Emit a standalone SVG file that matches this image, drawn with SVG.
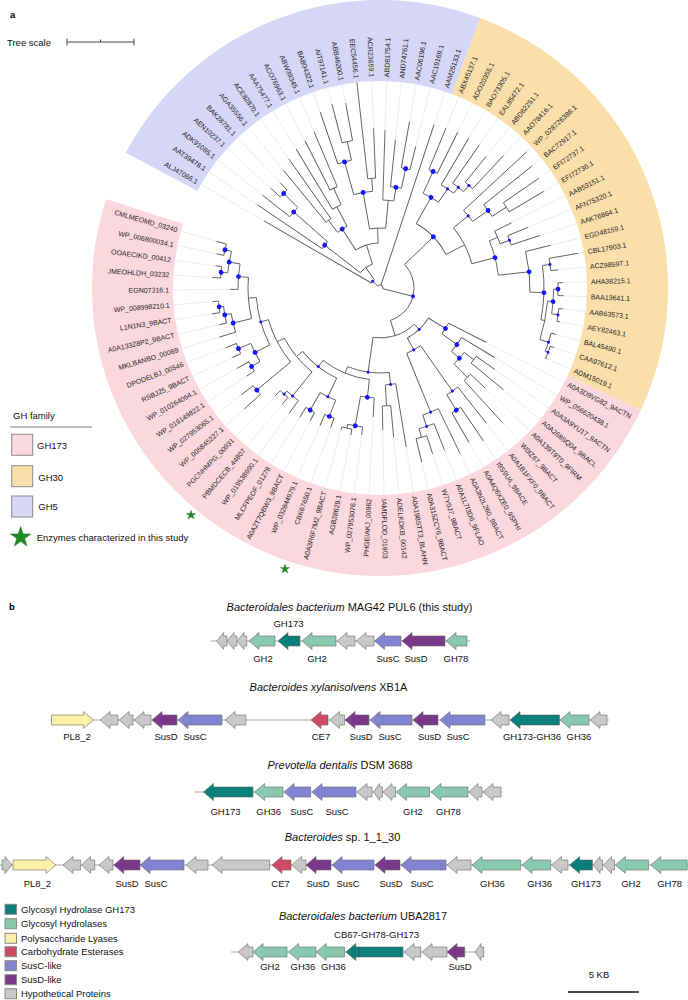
<svg xmlns="http://www.w3.org/2000/svg" width="688" height="1000" viewBox="0 0 688 1000">
<defs>
<style>
.br path,.br circle{fill:none;stroke:#5b5b5b;stroke-width:0.9}
.ld path{stroke:#e2e2e2;stroke-width:0.6}
.dots circle{fill:#1414ff}
.tl text{font-family:"Liberation Sans",Arial,sans-serif;font-size:7px;fill:#222;dominant-baseline:central}
.tl .f{text-anchor:end}
.lab{font-family:"Liberation Sans",Arial,sans-serif;font-size:9.5px;fill:#111}
.gl{font-family:"Liberation Sans",Arial,sans-serif;font-size:9.5px;fill:#111;text-anchor:middle}
.ti{font-family:"Liberation Sans",Arial,sans-serif;font-size:11px;fill:#111;text-anchor:middle}
.gene path{stroke:#6a6a6a;stroke-width:0.6}
.hy{fill:#c9c9c9}.gh{fill:#88c9af}.t{fill:#087f79}.pl{fill:#fcefa8}.ce{fill:#cf4b64}.sc{fill:#8283d1}.sd{fill:#7a388a}
.bb{stroke:#555;stroke-width:0.8;fill:none}
.band{fill:none;stroke-width:81}
.lg{stroke:#8a8a8a;stroke-width:1}
</style>
<path id="star" d="M0,-10L2.245,-3.09L9.51,-3.09L3.63,1.18L5.88,8.09L0,3.82L-5.88,8.09L-3.63,1.18L-9.51,-3.09L-2.245,-3.09Z" fill="#1f8b24" stroke="#146b18" stroke-width="0.6"/>
</defs>
<rect width="688" height="1000" fill="#fff"/>
<text x="10" y="18" font-family="Liberation Sans,Arial,sans-serif" font-size="9.5" font-weight="bold">a</text>
<g id="tree-scale">
<text class="lab" x="7" y="45.5">Tree scale</text>
<path d="M67 42H134M67 38.5V45.5M134 38.5V45.5M100.5 39.5V42" stroke="#444" stroke-width="1" fill="none"/>
</g>
<g id="bands" transform="translate(380 288)">
<circle class="band" r="247.5" pathLength="360" stroke-dasharray="82.35 360" transform="rotate(208)" stroke="#d6d6f6"/>
<circle class="band" r="247.5" pathLength="360" stroke-dasharray="94.71 360" transform="rotate(290.35)" stroke="#fbdfaa"/>
<circle class="band" r="247.5" pathLength="360" stroke-dasharray="172.94 360" transform="rotate(385.06)" stroke="#fad8de"/>
</g>
<g id="leaders" class="ld" transform="translate(380 288)">
<path transform="rotate(210.06)" d="M134 0H207"/><path transform="rotate(214.18)" d="M148 0H207"/><path transform="rotate(218.3)" d="M150 0H207"/><path transform="rotate(222.41)" d="M148 0H207"/><path transform="rotate(226.53)" d="M145 0H207"/><path transform="rotate(230.65)" d="M152 0H207"/><path transform="rotate(234.77)" d="M158 0H207"/><path transform="rotate(238.88)" d="M162 0H207"/><path transform="rotate(243)" d="M165 0H207"/><path transform="rotate(247.12)" d="M170 0H207"/><path transform="rotate(251.24)" d="M186 0H207"/><path transform="rotate(255.35)" d="M190 0H207"/><path transform="rotate(259.47)" d="M188 0H207"/><path transform="rotate(267.71)" d="M160 0H207"/><path transform="rotate(271.82)" d="M158 0H207"/><path transform="rotate(275.94)" d="M149 0H207"/><path transform="rotate(280.06)" d="M169 0H207"/><path transform="rotate(284.18)" d="M146 0H207"/><path transform="rotate(288.3)" d="M172 0H207"/>
<path transform="rotate(292.41)" d="M173 0H207"/><path transform="rotate(296.53)" d="M174 0H207"/><path transform="rotate(300.65)" d="M174 0H207"/><path transform="rotate(304.77)" d="M174 0H207"/><path transform="rotate(308.88)" d="M169 0H207"/><path transform="rotate(313)" d="M181 0H207"/><path transform="rotate(317.12)" d="M200 0H207"/><path transform="rotate(321.24)" d="M195 0H207"/><path transform="rotate(325.35)" d="M193 0H207"/><path transform="rotate(329.47)" d="M190 0H207"/><path transform="rotate(333.59)" d="M147 0H207"/><path transform="rotate(337.71)" d="M160 0H207"/><path transform="rotate(341.82)" d="M168 0H207"/><path transform="rotate(345.94)" d="M176 0H207"/><path transform="rotate(350.06)" d="M201 0H207"/><path transform="rotate(354.18)" d="M179 0H207"/><path transform="rotate(358.3)" d="M183 0H207"/><path transform="rotate(362.41)" d="M184 0H207"/><path transform="rotate(366.53)" d="M184 0H207"/><path transform="rotate(370.65)" d="M183 0H207"/><path transform="rotate(374.77)" d="M182 0H207"/><path transform="rotate(378.88)" d="M184 0H207"/><path transform="rotate(383)" d="M181 0H207"/>
<path transform="rotate(387.12)" d="M119 0H207"/><path transform="rotate(391.24)" d="M134 0H207"/><path transform="rotate(395.35)" d="M141 0H207"/><path transform="rotate(399.47)" d="M160 0H207"/><path transform="rotate(403.59)" d="M145 0H207"/><path transform="rotate(407.71)" d="M181 0H207"/><path transform="rotate(411.82)" d="M172 0H207"/><path transform="rotate(415.94)" d="M185 0H207"/><path transform="rotate(420.06)" d="M178 0H207"/><path transform="rotate(424.18)" d="M184 0H207"/><path transform="rotate(428.3)" d="M175 0H207"/><path transform="rotate(432.41)" d="M174 0H207"/><path transform="rotate(436.53)" d="M179 0H207"/><path transform="rotate(440.65)" d="M161 0H207"/><path transform="rotate(444.77)" d="M150 0H207"/><path transform="rotate(448.88)" d="M142 0H207"/><path transform="rotate(453)" d="M129 0H207"/><path transform="rotate(457.12)" d="M148 0H207"/><path transform="rotate(461.24)" d="M150 0H207"/><path transform="rotate(465.35)" d="M147 0H207"/><path transform="rotate(469.47)" d="M148 0H207"/><path transform="rotate(473.59)" d="M150 0H207"/><path transform="rotate(477.71)" d="M150 0H207"/><path transform="rotate(481.82)" d="M152 0H207"/><path transform="rotate(485.94)" d="M155 0H207"/><path transform="rotate(490.06)" d="M152 0H207"/><path transform="rotate(494.18)" d="M150 0H207"/><path transform="rotate(498.3)" d="M182 0H207"/><path transform="rotate(502.41)" d="M175 0H207"/><path transform="rotate(506.53)" d="M160 0H207"/><path transform="rotate(510.65)" d="M164 0H207"/><path transform="rotate(514.77)" d="M163 0H207"/><path transform="rotate(518.88)" d="M166 0H207"/><path transform="rotate(523)" d="M168 0H207"/><path transform="rotate(527.12)" d="M165 0H207"/><path transform="rotate(531.24)" d="M170 0H207"/><path transform="rotate(535.35)" d="M168 0H207"/><path transform="rotate(539.47)" d="M150 0H207"/><path transform="rotate(543.59)" d="M168 0H207"/><path transform="rotate(547.71)" d="M166 0H207"/><path transform="rotate(551.82)" d="M167 0H207"/><path transform="rotate(555.94)" d="M170 0H207"/>
</g>
<g id="tree" class="br" transform="translate(380 288)">
<path transform="rotate(222.6)" d="M3 0H10"/><path transform="rotate(210.06)" d="M10 0H134"/><path transform="rotate(235.2)" d="M10 0H25"/><path transform="rotate(217.8)" d="M25 0H70"/><path transform="rotate(214.18)" d="M70 0H148"/><path transform="rotate(221.4)" d="M70 0H115"/><path transform="rotate(218.3)" d="M115 0H150"/><path transform="rotate(224.47)" d="M115 0H135"/><path transform="rotate(222.41)" d="M135 0H148"/><path transform="rotate(226.53)" d="M135 0H145"/><path transform="rotate(252.5)" d="M25 0H45"/><path transform="rotate(237.34)" d="M45 0H70"/><path transform="rotate(232.71)" d="M70 0H85"/><path transform="rotate(230.65)" d="M85 0H152"/><path transform="rotate(234.77)" d="M85 0H158"/><path transform="rotate(241.97)" d="M70 0H92"/><path transform="rotate(238.88)" d="M92 0H162"/><path transform="rotate(245.06)" d="M92 0H110"/><path transform="rotate(243)" d="M110 0H165"/><path transform="rotate(247.12)" d="M110 0H170"/><path transform="rotate(267.7)" d="M45 0H60"/><path transform="rotate(260)" d="M60 0H97"/><path transform="rotate(254.3)" d="M97 0H131"/><path transform="rotate(251.24)" d="M131 0H186"/><path transform="rotate(257.41)" d="M131 0H150"/><path transform="rotate(255.35)" d="M150 0H190"/><path transform="rotate(259.47)" d="M150 0H188"/><path transform="rotate(265.65)" d="M97 0H110"/><path transform="rotate(263.59)" d="M110 0H207"/><path transform="rotate(267.71)" d="M110 0H160"/><path transform="rotate(275.4)" d="M60 0H88"/><path transform="rotate(271.82)" d="M88 0H158"/><path transform="rotate(279.03)" d="M88 0H102"/><path transform="rotate(275.94)" d="M102 0H149"/><path transform="rotate(282.12)" d="M102 0H122"/><path transform="rotate(280.06)" d="M122 0H169"/><path transform="rotate(284.18)" d="M122 0H146"/><path transform="rotate(288.3)" d="M3 0H172"/>
<circle r="3" pathLength="360" stroke-dasharray="151.6 360" transform="rotate(222.6)"/><circle r="10" pathLength="360" stroke-dasharray="25.14 360" transform="rotate(210.06)"/><circle r="25" pathLength="360" stroke-dasharray="34.7 360" transform="rotate(217.8)"/><circle r="70" pathLength="360" stroke-dasharray="7.22 360" transform="rotate(214.18)"/><circle r="115" pathLength="360" stroke-dasharray="6.17 360" transform="rotate(218.3)"/><circle r="135" pathLength="360" stroke-dasharray="4.12 360" transform="rotate(222.41)"/><circle r="45" pathLength="360" stroke-dasharray="30.36 360" transform="rotate(237.34)"/><circle r="70" pathLength="360" stroke-dasharray="9.26 360" transform="rotate(232.71)"/><circle r="85" pathLength="360" stroke-dasharray="4.12 360" transform="rotate(230.65)"/><circle r="92" pathLength="360" stroke-dasharray="6.18 360" transform="rotate(238.88)"/><circle r="110" pathLength="360" stroke-dasharray="4.12 360" transform="rotate(243)"/><circle r="60" pathLength="360" stroke-dasharray="15.4 360" transform="rotate(260)"/><circle r="97" pathLength="360" stroke-dasharray="11.35 360" transform="rotate(254.3)"/><circle r="131" pathLength="360" stroke-dasharray="6.17 360" transform="rotate(251.24)"/><circle r="150" pathLength="360" stroke-dasharray="4.12 360" transform="rotate(255.35)"/><circle r="110" pathLength="360" stroke-dasharray="4.12 360" transform="rotate(263.59)"/><circle r="88" pathLength="360" stroke-dasharray="7.21 360" transform="rotate(271.82)"/><circle r="102" pathLength="360" stroke-dasharray="6.18 360" transform="rotate(275.94)"/><circle r="122" pathLength="360" stroke-dasharray="4.12 360" transform="rotate(280.06)"/>
<path transform="rotate(374.2)" d="M3 0H34"/><path transform="rotate(316.16)" d="M34 0H74"/><path transform="rotate(299.37)" d="M74 0H104"/><path transform="rotate(294.47)" d="M104 0H128"/><path transform="rotate(292.41)" d="M128 0H173"/><path transform="rotate(296.53)" d="M128 0H174"/><path transform="rotate(304.26)" d="M104 0H120"/><path transform="rotate(300.65)" d="M120 0H174"/><path transform="rotate(307.86)" d="M120 0H127.6"/><path transform="rotate(304.77)" d="M127.6 0H174"/><path transform="rotate(310.94)" d="M127.6 0H135.7"/><path transform="rotate(308.88)" d="M135.7 0H169"/><path transform="rotate(313)" d="M135.7 0H181"/><path transform="rotate(332.95)" d="M74 0H95"/><path transform="rotate(320.7)" d="M95 0H114"/><path transform="rotate(317.12)" d="M114 0H200"/><path transform="rotate(324.33)" d="M114 0H133"/><path transform="rotate(321.24)" d="M133 0H195"/><path transform="rotate(327.41)" d="M133 0H150"/><path transform="rotate(325.35)" d="M150 0H193"/><path transform="rotate(329.47)" d="M150 0H190"/><path transform="rotate(345.2)" d="M95 0H119"/><path transform="rotate(336.68)" d="M119 0H128"/><path transform="rotate(333.59)" d="M128 0H147"/><path transform="rotate(339.77)" d="M128 0H138"/><path transform="rotate(337.71)" d="M138 0H160"/><path transform="rotate(341.82)" d="M138 0H168"/><path transform="rotate(353.8)" d="M119 0H150"/><path transform="rotate(345.94)" d="M150 0H176"/><path transform="rotate(361.6)" d="M150 0H164"/><path transform="rotate(352.12)" d="M164 0H171.6"/><path transform="rotate(350.06)" d="M171.6 0H201"/><path transform="rotate(354.18)" d="M171.6 0H179"/><path transform="rotate(371.17)" d="M164 0H168"/><path transform="rotate(364.48)" d="M168 0H173.6"/><path transform="rotate(360.36)" d="M173.6 0H178"/><path transform="rotate(358.3)" d="M178 0H183"/><path transform="rotate(362.41)" d="M178 0H184"/><path transform="rotate(368.59)" d="M173.6 0H180"/><path transform="rotate(366.53)" d="M180 0H184"/><path transform="rotate(370.65)" d="M180 0H183"/><path transform="rotate(377.86)" d="M168 0H177"/><path transform="rotate(374.77)" d="M177 0H182"/><path transform="rotate(380.94)" d="M177 0H180"/><path transform="rotate(378.88)" d="M180 0H184"/><path transform="rotate(383)" d="M180 0H181.5"/>
<circle r="34" pathLength="360" stroke-dasharray="116.14 360" transform="rotate(316.16)"/><circle r="74" pathLength="360" stroke-dasharray="33.58 360" transform="rotate(299.37)"/><circle r="104" pathLength="360" stroke-dasharray="9.79 360" transform="rotate(294.47)"/><circle r="128" pathLength="360" stroke-dasharray="4.12 360" transform="rotate(292.41)"/><circle r="120" pathLength="360" stroke-dasharray="7.21 360" transform="rotate(300.65)"/><circle r="127.6" pathLength="360" stroke-dasharray="6.17 360" transform="rotate(304.77)"/><circle r="135.7" pathLength="360" stroke-dasharray="4.12 360" transform="rotate(308.88)"/><circle r="95" pathLength="360" stroke-dasharray="24.5 360" transform="rotate(320.7)"/><circle r="114" pathLength="360" stroke-dasharray="7.21 360" transform="rotate(317.12)"/><circle r="133" pathLength="360" stroke-dasharray="6.17 360" transform="rotate(321.24)"/><circle r="150" pathLength="360" stroke-dasharray="4.12 360" transform="rotate(325.35)"/><circle r="119" pathLength="360" stroke-dasharray="17.12 360" transform="rotate(336.68)"/><circle r="128" pathLength="360" stroke-dasharray="6.18 360" transform="rotate(333.59)"/><circle r="138" pathLength="360" stroke-dasharray="4.11 360" transform="rotate(337.71)"/><circle r="150" pathLength="360" stroke-dasharray="15.66 360" transform="rotate(345.94)"/><circle r="164" pathLength="360" stroke-dasharray="19.05 360" transform="rotate(352.12)"/><circle r="171.6" pathLength="360" stroke-dasharray="4.12 360" transform="rotate(350.06)"/><circle r="168" pathLength="360" stroke-dasharray="13.38 360" transform="rotate(364.48)"/><circle r="173.6" pathLength="360" stroke-dasharray="8.23 360" transform="rotate(360.36)"/><circle r="178" pathLength="360" stroke-dasharray="4.11 360" transform="rotate(358.3)"/><circle r="180" pathLength="360" stroke-dasharray="4.12 360" transform="rotate(366.53)"/><circle r="177" pathLength="360" stroke-dasharray="6.17 360" transform="rotate(374.77)"/><circle r="180" pathLength="360" stroke-dasharray="4.12 360" transform="rotate(378.88)"/>
<path transform="rotate(432.25)" d="M34 0H50"/><path transform="rotate(406.56)" d="M50 0H57"/><path transform="rotate(391.76)" d="M57 0H77"/><path transform="rotate(387.12)" d="M77 0H119"/><path transform="rotate(396.39)" d="M77 0H95.5"/><path transform="rotate(391.24)" d="M95.5 0H134"/><path transform="rotate(401.53)" d="M95.5 0H106"/><path transform="rotate(397.41)" d="M106 0H118"/><path transform="rotate(395.35)" d="M118 0H141"/><path transform="rotate(399.47)" d="M118 0H160"/><path transform="rotate(405.65)" d="M106 0H125"/><path transform="rotate(403.59)" d="M125 0H145"/><path transform="rotate(407.71)" d="M125 0H181"/><path transform="rotate(421.35)" d="M57 0H70.5"/><path transform="rotate(414.91)" d="M70.5 0H126"/><path transform="rotate(411.82)" d="M126 0H172"/><path transform="rotate(418)" d="M126 0H144"/><path transform="rotate(415.94)" d="M144 0H185"/><path transform="rotate(420.06)" d="M144 0H178"/><path transform="rotate(427.79)" d="M70.5 0H134"/><path transform="rotate(424.18)" d="M134 0H184"/><path transform="rotate(431.39)" d="M134 0H146"/><path transform="rotate(428.3)" d="M146 0H175"/><path transform="rotate(434.47)" d="M146 0H155"/><path transform="rotate(432.41)" d="M155 0H174"/><path transform="rotate(436.53)" d="M155 0H179"/>
<path transform="rotate(458.05)" d="M50 0H85"/><path transform="rotate(443.74)" d="M85 0H97"/><path transform="rotate(440.65)" d="M97 0H161"/><path transform="rotate(446.83)" d="M97 0H118"/><path transform="rotate(444.77)" d="M118 0H150"/><path transform="rotate(448.88)" d="M118 0H142"/><path transform="rotate(472.35)" d="M85 0H92"/><path transform="rotate(456.6)" d="M92 0H110"/><path transform="rotate(453)" d="M110 0H129"/><path transform="rotate(460.2)" d="M110 0H140"/><path transform="rotate(457.12)" d="M140 0H148"/><path transform="rotate(463.3)" d="M140 0H144"/><path transform="rotate(461.24)" d="M144 0H150"/><path transform="rotate(465.35)" d="M144 0H147"/><path transform="rotate(488.1)" d="M92 0H100"/><path transform="rotate(475.65)" d="M100 0H120.6"/><path transform="rotate(471.53)" d="M120.6 0H138"/><path transform="rotate(469.47)" d="M138 0H148"/><path transform="rotate(473.59)" d="M138 0H150"/><path transform="rotate(479.77)" d="M120.6 0H140.6"/><path transform="rotate(477.71)" d="M140.6 0H150"/><path transform="rotate(481.82)" d="M140.6 0H152"/><path transform="rotate(500.65)" d="M100 0H108"/><path transform="rotate(489.03)" d="M108 0H139"/><path transform="rotate(485.94)" d="M139 0H155"/><path transform="rotate(492.12)" d="M139 0H143"/><path transform="rotate(490.06)" d="M143 0H152"/><path transform="rotate(494.18)" d="M143 0H150"/><path transform="rotate(512.3)" d="M108 0H116"/><path transform="rotate(500.36)" d="M116 0H160"/><path transform="rotate(498.3)" d="M160 0H182"/><path transform="rotate(502.41)" d="M160 0H175"/><path transform="rotate(524.15)" d="M116 0H124"/><path transform="rotate(512.71)" d="M124 0H140.6"/><path transform="rotate(508.59)" d="M140.6 0H150.5"/><path transform="rotate(506.53)" d="M150.5 0H160"/><path transform="rotate(510.65)" d="M150.5 0H164"/><path transform="rotate(516.83)" d="M140.6 0H154"/><path transform="rotate(514.77)" d="M154 0H163"/><path transform="rotate(518.88)" d="M154 0H166"/><path transform="rotate(535.6)" d="M124 0H132"/><path transform="rotate(526.6)" d="M132 0H151"/><path transform="rotate(523)" d="M151 0H168"/><path transform="rotate(530.2)" d="M151 0H157.5"/><path transform="rotate(527.12)" d="M157.5 0H165"/><path transform="rotate(533.3)" d="M157.5 0H162"/><path transform="rotate(531.24)" d="M162 0H170"/><path transform="rotate(535.35)" d="M162 0H168"/><path transform="rotate(544.62)" d="M132 0H142"/><path transform="rotate(539.47)" d="M142 0H150"/><path transform="rotate(549.77)" d="M142 0H153"/><path transform="rotate(545.65)" d="M153 0H159.7"/><path transform="rotate(543.59)" d="M159.7 0H168"/><path transform="rotate(547.71)" d="M159.7 0H166"/><path transform="rotate(553.88)" d="M153 0H159.6"/><path transform="rotate(551.82)" d="M159.6 0H167"/><path transform="rotate(555.94)" d="M159.6 0H170"/>
<circle r="50" pathLength="360" stroke-dasharray="51.49 360" transform="rotate(406.56)"/><circle r="57" pathLength="360" stroke-dasharray="29.59 360" transform="rotate(391.76)"/><circle r="77" pathLength="360" stroke-dasharray="9.27 360" transform="rotate(387.12)"/><circle r="95.5" pathLength="360" stroke-dasharray="10.29 360" transform="rotate(391.24)"/><circle r="106" pathLength="360" stroke-dasharray="8.24 360" transform="rotate(397.41)"/><circle r="118" pathLength="360" stroke-dasharray="4.12 360" transform="rotate(395.35)"/><circle r="125" pathLength="360" stroke-dasharray="4.12 360" transform="rotate(403.59)"/><circle r="70.5" pathLength="360" stroke-dasharray="12.88 360" transform="rotate(414.91)"/><circle r="126" pathLength="360" stroke-dasharray="6.18 360" transform="rotate(411.82)"/><circle r="144" pathLength="360" stroke-dasharray="4.12 360" transform="rotate(415.94)"/><circle r="134" pathLength="360" stroke-dasharray="7.21 360" transform="rotate(424.18)"/><circle r="146" pathLength="360" stroke-dasharray="6.17 360" transform="rotate(428.3)"/><circle r="155" pathLength="360" stroke-dasharray="4.12 360" transform="rotate(432.41)"/>
<circle r="85" pathLength="360" stroke-dasharray="28.61 360" transform="rotate(443.74)"/><circle r="97" pathLength="360" stroke-dasharray="6.18 360" transform="rotate(440.65)"/><circle r="118" pathLength="360" stroke-dasharray="4.11 360" transform="rotate(444.77)"/><circle r="92" pathLength="360" stroke-dasharray="31.5 360" transform="rotate(456.6)"/><circle r="110" pathLength="360" stroke-dasharray="7.2 360" transform="rotate(453)"/><circle r="140" pathLength="360" stroke-dasharray="6.18 360" transform="rotate(457.12)"/><circle r="144" pathLength="360" stroke-dasharray="4.11 360" transform="rotate(461.24)"/><circle r="100" pathLength="360" stroke-dasharray="25 360" transform="rotate(475.65)"/><circle r="120.6" pathLength="360" stroke-dasharray="8.24 360" transform="rotate(471.53)"/><circle r="138" pathLength="360" stroke-dasharray="4.12 360" transform="rotate(469.47)"/><circle r="140.6" pathLength="360" stroke-dasharray="4.11 360" transform="rotate(477.71)"/><circle r="108" pathLength="360" stroke-dasharray="23.27 360" transform="rotate(489.03)"/><circle r="139" pathLength="360" stroke-dasharray="6.18 360" transform="rotate(485.94)"/><circle r="143" pathLength="360" stroke-dasharray="4.12 360" transform="rotate(490.06)"/><circle r="116" pathLength="360" stroke-dasharray="23.79 360" transform="rotate(500.36)"/><circle r="160" pathLength="360" stroke-dasharray="4.11 360" transform="rotate(498.3)"/><circle r="124" pathLength="360" stroke-dasharray="22.89 360" transform="rotate(512.71)"/><circle r="140.6" pathLength="360" stroke-dasharray="8.24 360" transform="rotate(508.59)"/><circle r="150.5" pathLength="360" stroke-dasharray="4.12 360" transform="rotate(506.53)"/><circle r="154" pathLength="360" stroke-dasharray="4.11 360" transform="rotate(514.77)"/><circle r="132" pathLength="360" stroke-dasharray="18.02 360" transform="rotate(526.6)"/><circle r="151" pathLength="360" stroke-dasharray="7.2 360" transform="rotate(523)"/><circle r="157.5" pathLength="360" stroke-dasharray="6.18 360" transform="rotate(527.12)"/><circle r="162" pathLength="360" stroke-dasharray="4.11 360" transform="rotate(531.24)"/><circle r="142" pathLength="360" stroke-dasharray="10.3 360" transform="rotate(539.47)"/><circle r="153" pathLength="360" stroke-dasharray="8.23 360" transform="rotate(545.65)"/><circle r="159.7" pathLength="360" stroke-dasharray="4.12 360" transform="rotate(543.59)"/><circle r="159.6" pathLength="360" stroke-dasharray="4.12 360" transform="rotate(551.82)"/>
</g>
<g id="support-dots" class="dots" transform="translate(380 288)">
<circle transform="rotate(217.8)" cx="70" r="2.4"/><circle transform="rotate(221.4)" cx="115" r="2.4"/><circle transform="rotate(224.47)" cx="135" r="2.4"/><circle transform="rotate(237.34)" cx="70" r="2.4"/><circle transform="rotate(260)" cx="97" r="2.4"/><circle transform="rotate(254.3)" cx="131" r="2.4"/><circle transform="rotate(279.03)" cx="102" r="2.4"/><circle transform="rotate(282.12)" cx="122" r="2.4"/><circle transform="rotate(374.2)" cx="34" r="2"/><circle transform="rotate(316.16)" cx="74" r="2.4"/><circle transform="rotate(299.37)" cx="104" r="2.4"/><circle transform="rotate(294.47)" cx="128" r="2.4"/><circle transform="rotate(324.33)" cx="133" r="2.4"/><circle transform="rotate(345.2)" cx="119" r="2.4"/><circle transform="rotate(353.8)" cx="150" r="2.4"/><circle transform="rotate(361.6)" cx="164" r="2.4"/><circle transform="rotate(364.48)" cx="173.6" r="2.4"/><circle transform="rotate(360.36)" cx="178" r="2.4"/><circle transform="rotate(391.76)" cx="77" r="2.4"/><circle transform="rotate(396.39)" cx="95.5" r="2.4"/><circle transform="rotate(401.53)" cx="106" r="2.4"/><circle transform="rotate(418)" cx="144" r="2.4"/><circle transform="rotate(456.6)" cx="110" r="2.4"/><circle transform="rotate(460.2)" cx="140" r="2.4"/><circle transform="rotate(471.53)" cx="138" r="2.4"/><circle transform="rotate(479.77)" cx="140.6" r="2.4"/><circle transform="rotate(500.36)" cx="160" r="2.4"/><circle transform="rotate(512.71)" cx="140.6" r="2.4"/><circle transform="rotate(508.59)" cx="150.5" r="2.4"/><circle transform="rotate(516.83)" cx="154" r="2.4"/><circle transform="rotate(526.6)" cx="151" r="2.4"/><circle transform="rotate(530.2)" cx="157.5" r="2.4"/><circle transform="rotate(533.3)" cx="162" r="2.4"/><circle transform="rotate(544.62)" cx="142" r="2.4"/><circle transform="rotate(549.77)" cx="153" r="2.4"/><circle transform="rotate(545.65)" cx="159.7" r="2.4"/><circle transform="rotate(553.88)" cx="159.6" r="2.4"/>
<circle transform="rotate(222.6)" cx="10" r="1.5"/><circle transform="rotate(304.26)" cx="120" r="1.5"/><circle transform="rotate(307.86)" cx="127.6" r="1.5"/><circle transform="rotate(310.94)" cx="135.7" r="1.5"/><circle transform="rotate(320.7)" cx="114" r="1.5"/><circle transform="rotate(339.77)" cx="138" r="1.5"/><circle transform="rotate(352.12)" cx="171.6" r="1.5"/><circle transform="rotate(368.59)" cx="180" r="1.5"/><circle transform="rotate(377.86)" cx="177" r="1.5"/><circle transform="rotate(380.94)" cx="180" r="1.5"/><circle transform="rotate(406.56)" cx="57" r="1.5"/><circle transform="rotate(421.35)" cx="70.5" r="1.5"/><circle transform="rotate(414.91)" cx="126" r="1.5"/><circle transform="rotate(427.79)" cx="134" r="1.5"/><circle transform="rotate(431.39)" cx="146" r="1.5"/><circle transform="rotate(458.05)" cx="85" r="1.5"/><circle transform="rotate(443.74)" cx="97" r="1.5"/><circle transform="rotate(488.1)" cx="100" r="1.5"/><circle transform="rotate(475.65)" cx="120.6" r="1.5"/><circle transform="rotate(489.03)" cx="139" r="1.5"/><circle transform="rotate(492.12)" cx="143" r="1.5"/><circle transform="rotate(524.15)" cx="124" r="1.5"/>
</g>
<g id="leaf-labels" class="tl" transform="translate(380 288)">
<text class="f" transform="rotate(210.06)translate(211)rotate(180)">ALJ47066.1</text>
<text class="f" transform="rotate(214.18)translate(211)rotate(180)">AAT39478.1</text>
<text class="f" transform="rotate(218.3)translate(211)rotate(180)">ADK91085.1</text>
<text class="f" transform="rotate(222.41)translate(211)rotate(180)">AEN10237.1</text>
<text class="f" transform="rotate(226.53)translate(211)rotate(180)">BAK28781.1</text>
<text class="f" transform="rotate(230.65)translate(211)rotate(180)">AGA35556.1</text>
<text class="f" transform="rotate(234.77)translate(211)rotate(180)">ACE82870.1</text>
<text class="f" transform="rotate(238.88)translate(211)rotate(180)">AAA75477.1</text>
<text class="f" transform="rotate(243)translate(211)rotate(180)">ACO76963.1</text>
<text class="f" transform="rotate(247.12)translate(211)rotate(180)">ABW39345.1</text>
<text class="f" transform="rotate(251.24)translate(211)rotate(180)">BAB04322.1</text>
<text class="f" transform="rotate(255.35)translate(211)rotate(180)">AIT97141.1</text>
<text class="f" transform="rotate(259.47)translate(211)rotate(180)">ABB46200.1</text>
<text class="f" transform="rotate(263.59)translate(211)rotate(180)">EEC54456.1</text>
<text class="f" transform="rotate(267.71)translate(211)rotate(180)">ACR23659.1</text>
<text transform="rotate(271.82)translate(211)">ABD81754.1</text>
<text transform="rotate(275.94)translate(211)">AND74761.1</text>
<text transform="rotate(280.06)translate(211)">AAC06196.1</text>
<text transform="rotate(284.18)translate(211)">AAC19169.1</text>
<text transform="rotate(288.3)translate(211)">AAM25133.1</text>
<text transform="rotate(292.41)translate(211)">ABX45137.1</text>
<text transform="rotate(296.53)translate(211)">ADO20355.1</text>
<text transform="rotate(300.65)translate(211)">BAO73305.1</text>
<text transform="rotate(304.77)translate(211)">EAL85472.1</text>
<text transform="rotate(308.88)translate(211)">ABD82251.1</text>
<text transform="rotate(313)translate(211)">AAO78416.1</text>
<text transform="rotate(317.12)translate(211)">WP_028726386.1</text>
<text transform="rotate(321.24)translate(211)">BAC72917.1</text>
<text transform="rotate(325.35)translate(211)">EFI72737.1</text>
<text transform="rotate(329.47)translate(211)">EFI72736.1</text>
<text transform="rotate(333.59)translate(211)">AAB53151.1</text>
<text transform="rotate(337.71)translate(211)">AFN75320.1</text>
<text transform="rotate(341.82)translate(211)">AAK76864.1</text>
<text transform="rotate(345.94)translate(211)">EGD48159.1</text>
<text transform="rotate(350.06)translate(211)">CBL17903.1</text>
<text transform="rotate(354.18)translate(211)">ACZ98597.1</text>
<text transform="rotate(358.3)translate(211)">AHA38215.1</text>
<text transform="rotate(362.41)translate(211)">BAA13641.1</text>
<text transform="rotate(366.53)translate(211)">AAB63573.1</text>
<text transform="rotate(370.65)translate(211)">AEY82463.1</text>
<text transform="rotate(374.77)translate(211)">BAL45490.1</text>
<text transform="rotate(378.88)translate(211)">CAA97612.1</text>
<text transform="rotate(383)translate(211)">ADM15019.1</text>
<text transform="rotate(387.12)translate(211)">A0A3D9VG82_9ACTN</text>
<text transform="rotate(391.24)translate(211)">WP_056620438.1</text>
<text transform="rotate(395.35)translate(211)">A0A3A9YU17_9ACTN</text>
<text transform="rotate(399.47)translate(211)">A0A268SQ04_9BACL</text>
<text transform="rotate(403.59)translate(211)">A0A139T9T0_9FIRM</text>
<text transform="rotate(407.71)translate(211)">W0IZ67_9BACT</text>
<text transform="rotate(411.82)translate(211)">A0A1B1FXF0_9BACT</text>
<text transform="rotate(415.94)translate(211)">I9S9U4_9BACE</text>
<text transform="rotate(420.06)translate(211)">A0A4Q6XZE0_9SPHI</text>
<text transform="rotate(424.18)translate(211)">A0A3N2L260_9BACT</text>
<text transform="rotate(428.3)translate(211)">A0A1L7I3D6_9FLAO</text>
<text transform="rotate(432.41)translate(211)">W7Y0J7_9BACT</text>
<text transform="rotate(436.53)translate(211)">A0A315ZCY6_9BACT</text>
<text transform="rotate(440.65)translate(211)">A0A198STT3_BLAHN</text>
<text transform="rotate(444.77)translate(211)">ADELKDKB_00142</text>
<text transform="rotate(448.88)translate(211)">IAMDFLOD_01903</text>
<text class="f" transform="rotate(453)translate(211)rotate(180)">PHGEIAKJ_00962</text>
<text class="f" transform="rotate(457.12)translate(211)rotate(180)">WP_027953076.1</text>
<text class="f" transform="rotate(461.24)translate(211)rotate(180)">AGB28629.1</text>
<text class="f" transform="rotate(465.35)translate(211)rotate(180)">A0A3R6F7M2_9BACT</text>
<text class="f" transform="rotate(469.47)translate(211)rotate(180)">CBK67650.1</text>
<text class="f" transform="rotate(473.59)translate(211)rotate(180)">WP_032844979.1</text>
<text class="f" transform="rotate(477.71)translate(211)rotate(180)">A0A2T7QBW3_9BACT</text>
<text class="f" transform="rotate(481.82)translate(211)rotate(180)">MLCFPEOF_01278</text>
<text class="f" transform="rotate(485.94)translate(211)rotate(180)">WP_019538990.1</text>
<text class="f" transform="rotate(490.06)translate(211)rotate(180)">PBMDCECB_44807</text>
<text class="f" transform="rotate(494.18)translate(211)rotate(180)">PGCNHMPG_00931</text>
<text class="f" transform="rotate(498.3)translate(211)rotate(180)">WP_005845227.1</text>
<text class="f" transform="rotate(502.41)translate(211)rotate(180)">WP_027953065.1</text>
<text class="f" transform="rotate(506.53)translate(211)rotate(180)">WP_019149822.1</text>
<text class="f" transform="rotate(510.65)translate(211)rotate(180)">WP_010264064.1</text>
<text class="f" transform="rotate(514.77)translate(211)rotate(180)">RSBJ25_9BACT</text>
<text class="f" transform="rotate(518.88)translate(211)rotate(180)">DPODELBJ_00546</text>
<text class="f" transform="rotate(523)translate(211)rotate(180)">MKLBANBO_00069</text>
<text class="f" transform="rotate(527.12)translate(211)rotate(180)">A0A133Z8P2_9BACT</text>
<text class="f" transform="rotate(531.24)translate(211)rotate(180)">L1N1N3_9BACT</text>
<text class="f" transform="rotate(535.35)translate(211)rotate(180)">WP_008998210.1</text>
<text class="f" transform="rotate(539.47)translate(211)rotate(180)">EGN07316.1</text>
<text class="f" transform="rotate(543.59)translate(211)rotate(180)">JMEOHLDH_03232</text>
<text class="f" transform="rotate(547.71)translate(211)rotate(180)">OOAECIKD_00412</text>
<text class="f" transform="rotate(551.82)translate(211)rotate(180)">WP_006800034.1</text>
<text class="f" transform="rotate(555.94)translate(211)rotate(180)">CMLMEOMD_03240</text>
</g>
<g id="stars">
<use href="#star" transform="translate(191 515) scale(0.5)"/>
<use href="#star" transform="translate(285 569) scale(0.5)"/>
</g>
<g id="legend-a">
<text class="lab" x="13" y="418.5">GH family</text>
<path d="M10 427H92" stroke="#555" stroke-width="0.8"/>
<rect class="lg" x="11.7" y="434.3" width="21" height="21" fill="#fad8de"/>
<text class="lab" x="37" y="449">GH173</text>
<rect class="lg" x="11.7" y="465.7" width="21" height="21" fill="#fbdfaa"/>
<text class="lab" x="38.3" y="480.7">GH30</text>
<rect class="lg" x="11.7" y="496" width="21" height="21" fill="#d6d6f6"/>
<text class="lab" x="38.3" y="509.5">GH5</text>
<use href="#star" transform="translate(20.7 537.3) scale(1.05)"/>
<text class="lab" x="36.7" y="540.7">Enzymes characterized in this study</text>
</g>
<text x="9" y="610" font-family="Liberation Sans,Arial,sans-serif" font-size="9.5" font-weight="bold">b</text>
<g id="row1" class="gene">
<text class="ti" x="349.5" y="611"><tspan font-style="italic">Bacteroidales bacterium</tspan>  MAG42 PUL6 (this study)</text>
<path class="bb" d="M210.6 641H470.5"/>
<path class="hy" d="M216.7 641l7-8.5v3.5h3.3v10h-3.3v3.5z"/>
<path class="hy" d="M227 641l7-8.5v3.5h3v10h-3v3.5z"/>
<path class="hy" d="M237 641l7-8.5v3.5h2.7v10h-2.7v3.5z"/>
<path class="gh" d="M249 641l10-8.5v3.5h16v10h-16v3.5z"/>
<path class="t" d="M278 641l10-8.5v3.5h12v10h-12v3.5z"/>
<path class="gh" d="M302 641l10-8.5v3.5h24v10h-24v3.5z"/>
<path class="hy" d="M337 641l10-8.5v3.5h8v10h-8v3.5z"/>
<path class="hy" d="M356 641l10-8.5v3.5h8v10h-8v3.5z"/>
<path class="sc" d="M374.5 641l10-8.5v3.5h16.5v10h-16.5v3.5z"/>
<path class="sd" d="M402 641l10-8.5v3.5h33v10h-33v3.5z"/>
<path class="gh" d="M446 641l10-8.5v3.5h11v10h-11v3.5z"/>
<text class="gl" x="288.5" y="627.4">GH173</text>
<text class="gl" x="263" y="662.4">GH2</text>
<text class="gl" x="317" y="662.4">GH2</text>
<text class="gl" x="388" y="662.4">SusC</text>
<text class="gl" x="416" y="662.4">SusD</text>
<text class="gl" x="456" y="662.4">GH78</text>
</g>
<g id="row2" class="gene">
<text class="ti" x="328.5" y="691"><tspan font-style="italic">Bacteroides xylanisolvens</tspan> XB1A</text>
<path class="bb" d="M50 720H609"/>
<path class="pl" d="M93.4 720l-10-8.5v3.5h-31.9v10h31.9v3.5z"/>
<path class="hy" d="M100 720l10-8.5v3.5h8v10h-8v3.5z"/>
<path class="hy" d="M119 720l10-8.5v3.5h4v10h-4v3.5z"/>
<path class="hy" d="M134 720l10-8.5v3.5h7v10h-7v3.5z"/>
<path class="sd" d="M152 720l10-8.5v3.5h15v10h-15v3.5z"/>
<path class="sc" d="M178 720l10-8.5v3.5h34v10h-34v3.5z"/>
<path class="hy" d="M225 720l10-8.5v3.5h11v10h-11v3.5z"/>
<path class="ce" d="M311 720l10-8.5v3.5h7v10h-7v3.5z"/>
<path class="hy" d="M329.5 720l10-8.5v3.5h5v10h-5v3.5z"/>
<path class="sd" d="M345 720l10-8.5v3.5h14v10h-14v3.5z"/>
<path class="sc" d="M370 720l10-8.5v3.5h32v10h-32v3.5z"/>
<path class="sd" d="M413 720l10-8.5v3.5h15v10h-15v3.5z"/>
<path class="sc" d="M440 720l10-8.5v3.5h35v10h-35v3.5z"/>
<path class="hy" d="M491 720l10-8.5v3.5h8v10h-8v3.5z"/>
<path class="t" d="M510 720l10-8.5v3.5h39.5v10h-39.5v3.5z"/>
<path class="gh" d="M560 720l10-8.5v3.5h19v10h-19v3.5z"/>
<path class="hy" d="M590 720l10-8.5v3.5h7v10h-7v3.5z"/>
<text class="gl" x="77" y="740.4">PL8_2</text>
<text class="gl" x="166" y="740.4">SusD</text>
<text class="gl" x="195" y="740.4">SusC</text>
<text class="gl" x="321" y="740.4">CE7</text>
<text class="gl" x="361" y="740.4">SusD</text>
<text class="gl" x="390" y="740.4">SusC</text>
<text class="gl" x="429.5" y="740.4">SusD</text>
<text class="gl" x="458" y="740.4">SusC</text>
<text class="gl" x="532" y="740.4">GH173-GH36</text>
<text class="gl" x="579" y="740.4">GH36</text>
</g>
<g id="row3" class="gene">
<text class="ti" x="340" y="769"><tspan font-style="italic">Prevotella dentalis</tspan> DSM 3688</text>
<path class="bb" d="M194 792H502"/>
<path class="t" d="M203.5 792l10-8.5v3.5h39.5v10h-39.5v3.5z"/>
<path class="gh" d="M254.6 792l10-8.5v3.5h18.4v10h-18.4v3.5z"/>
<path class="sc" d="M284 792l10-8.5v3.5h16.6v10h-16.6v3.5z"/>
<path class="sc" d="M312 792l10-8.5v3.5h34v10h-34v3.5z"/>
<path class="hy" d="M357 792l10-8.5v3.5h5v10h-5v3.5z"/>
<path class="hy" d="M373.6 792l6-8.5v3.5h2.8v10h-2.8v3.5z"/>
<path class="hy" d="M383 792l9-8.5v3.5h3.6v10h-3.6v3.5z"/>
<path class="gh" d="M396.5 792l10-8.5v3.5h23v10h-23v3.5z"/>
<path class="gh" d="M431 792l10-8.5v3.5h27v10h-27v3.5z"/>
<path class="hy" d="M469 792l9-8.5v3.5h4v10h-4v3.5z"/>
<path class="hy" d="M483 792l10-8.5v3.5h8v10h-8v3.5z"/>
<text class="gl" x="225.5" y="815.4">GH173</text>
<text class="gl" x="268.7" y="815.4">GH36</text>
<text class="gl" x="301.8" y="815.4">SusC</text>
<text class="gl" x="337" y="815.4">SusC</text>
<text class="gl" x="412.8" y="815.4">GH2</text>
<text class="gl" x="448.5" y="815.4">GH78</text>
</g>
<g id="row4" class="gene">
<text class="ti" x="342.5" y="841"><tspan font-style="italic">Bacteroides</tspan> sp. 1_1_30</text>
<path class="bb" d="M0 865H688"/>
<path class="hy" d="M12 865l-7-8.5v3.5h-3v10h3v3.5z"/>
<path class="pl" d="M56 865l-10-8.5v3.5h-33v10h33v3.5z"/>
<path class="hy" d="M63 865l10-8.5v3.5h7.6v10h-7.6v3.5z"/>
<path class="hy" d="M81.5 865l9-8.5v3.5h4.2v10h-4.2v3.5z"/>
<path class="hy" d="M99 865l10-8.5v3.5h4v10h-4v3.5z"/>
<path class="sd" d="M113.7 865l10-8.5v3.5h16.3v10h-16.3v3.5z"/>
<path class="sc" d="M140 865l10-8.5v3.5h34v10h-34v3.5z"/>
<path class="hy" d="M186 865l10-8.5v3.5h12v10h-12v3.5z"/>
<path class="hy" d="M212 865l10-8.5v3.5h47.6v10h-47.6v3.5z"/>
<path class="ce" d="M272 865l10-8.5v3.5h9v10h-9v3.5z"/>
<path class="hy" d="M291.6 865l10-8.5v3.5h4.4v10h-4.4v3.5z"/>
<path class="sd" d="M306 865l10-8.5v3.5h15v10h-15v3.5z"/>
<path class="sc" d="M332 865l10-8.5v3.5h32v10h-32v3.5z"/>
<path class="sd" d="M375 865l10-8.5v3.5h15v10h-15v3.5z"/>
<path class="sc" d="M401 865l10-8.5v3.5h35v10h-35v3.5z"/>
<path class="hy" d="M447 865l10-8.5v3.5h14v10h-14v3.5z"/>
<path class="gh" d="M472 865l10-8.5v3.5h38.7v10h-38.7v3.5z"/>
<path class="gh" d="M522 865l10-8.5v3.5h18.7v10h-18.7v3.5z"/>
<path class="hy" d="M551.5 865l10-8.5v3.5h6.5v10h-6.5v3.5z"/>
<path class="t" d="M569.6 865l10-8.5v3.5h12.9v10h-12.9v3.5z"/>
<path class="hy" d="M593 865l7-8.5v3.5h2.6v10h-2.6v3.5z"/>
<path class="hy" d="M603.5 865l8-8.5v3.5h3v10h-3v3.5z"/>
<path class="gh" d="M615.4 865l10-8.5v3.5h23.1v10h-23.1v3.5z"/>
<path class="gh" d="M650.7 865l10-8.5v3.5h26.5v10h-26.5v3.5z"/>
<text class="gl" x="37.4" y="887.4">PL8_2</text>
<text class="gl" x="127" y="887.4">SusD</text>
<text class="gl" x="156" y="887.4">SusC</text>
<text class="gl" x="280.6" y="887.4">CE7</text>
<text class="gl" x="318" y="887.4">SusD</text>
<text class="gl" x="348" y="887.4">SusC</text>
<text class="gl" x="391" y="887.4">SusD</text>
<text class="gl" x="422" y="887.4">SusC</text>
<text class="gl" x="492.5" y="887.4">GH36</text>
<text class="gl" x="539.6" y="887.4">GH36</text>
<text class="gl" x="586" y="887.4">GH173</text>
<text class="gl" x="631" y="887.4">GH2</text>
<text class="gl" x="669.6" y="887.4">GH78</text>
</g>
<g id="row5" class="gene">
<text class="ti" x="363" y="920"><tspan font-style="italic">Bacteroidales bacterium</tspan>  UBA2817</text>
<path class="bb" d="M231 952H484.6"/>
<path class="hy" d="M238 952l10-8.5v3.5h5v10h-5v3.5z"/>
<path class="gh" d="M253 952l10-8.5v3.5h24v10h-24v3.5z"/>
<path class="gh" d="M288.5 952l10-8.5v3.5h17.5v10h-17.5v3.5z"/>
<path class="gh" d="M316.3 952l10-8.5v3.5h18.2v10h-18.2v3.5z"/>
<path class="t" d="M345.8 952l10-8.5v3.5h47.2v10h-47.2v3.5z"/>
<path class="hy" d="M404 952l10-8.5v3.5h6.7v10h-6.7v3.5z"/>
<path class="hy" d="M422 952l10-8.5v3.5h15v10h-15v3.5z"/>
<path class="sd" d="M447 952l10-8.5v3.5h7.7v10h-7.7v3.5z"/>
<path class="hy" d="M475 952l6-8.5v3.5h2.7v10h-2.7v3.5z"/>
<text class="gl" x="376.6" y="938.4">CB67-GH78-GH173</text>
<text class="gl" x="270" y="970.4">GH2</text>
<text class="gl" x="303" y="970.4">GH36</text>
<text class="gl" x="333.5" y="970.4">GH36</text>
<text class="gl" x="460" y="970.4">SusD</text>
</g>
<g id="legend-b">
<rect class="lg" x="5" y="904.3" width="11.5" height="10" fill="#087f79"/>
<text class="lab" x="21" y="912.7">Glycosyl Hydrolase GH173</text>
<rect class="lg" x="5" y="918.7" width="11.5" height="10" fill="#88c9af"/>
<text class="lab" x="21" y="927.1">Glycosyl Hydrolases</text>
<rect class="lg" x="5" y="933.3" width="11.5" height="10" fill="#fcefa8"/>
<text class="lab" x="21" y="941.7">Polysaccharide Lyases</text>
<rect class="lg" x="5" y="946.7" width="11.5" height="10" fill="#cf4b64"/>
<text class="lab" x="21" y="955.1">Carbohydrate Esterases</text>
<rect class="lg" x="5" y="960.7" width="11.5" height="10" fill="#8283d1"/>
<text class="lab" x="21" y="969.1">SusC-like</text>
<rect class="lg" x="5" y="974.7" width="11.5" height="10" fill="#7a388a"/>
<text class="lab" x="21" y="983.1">SusD-like</text>
<rect class="lg" x="5" y="988.7" width="11.5" height="10" fill="#c9c9c9"/>
<text class="lab" x="21" y="997.1">Hypothetical Proteins</text>
</g>
<g id="scale-b">
<text class="gl" x="599" y="978.4">5 KB</text>
<path d="M568 992H639" stroke="#111" stroke-width="1.5"/>
</g>
</svg>
